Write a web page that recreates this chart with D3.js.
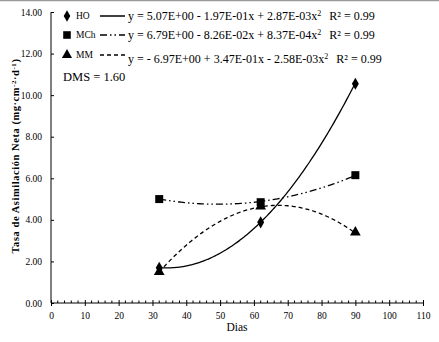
<!doctype html>
<html lang="es">
<head>
  <meta charset="UTF-8">
  <script src="https://cdn.jsdelivr.net/npm/d3@7"></script>
  <title>Tasa de Asimilación Neta</title>
  <style>
    body{ margin:0; background:#fff;}
    svg, svg text{ display:block; font-family:'Liberation Serif', 'DejaVu Serif', serif !important;}
  </style>
</head>
<body>
  <div class="chart"></div>
  <script>
    // datos
    const dias = [32, 62, 90];
    const HO = [1.70, 3.88, 10.55];
    const MCh = [5.00, 4.85, 6.15];
    const MM = [1.50, 4.65, 3.40];
    // coeficientes de las regresiones (a, b, c) mostrados en la leyenda
    const coefHO = [5.07, -0.197, 0.00287];
    const coefMCh = [6.79, -0.0826, 0.000837];
    const coefMM = [-6.97, 0.347, -0.00258];
    const ecuaciones = [
      'y = 5.07E+00 - 1.97E-01x + 2.87E-03x',
      'y = 6.79E+00 - 8.26E-02x + 8.37E-04x',
      'y = - 6.97E+00 + 3.47E-01x - 2.58E-03x'
    ];
    const r2 = ['0.99', '0.99', '0.99'];
    const xTicks = d3.range(0, 111, 10);
    const yTicks = d3.range(0, 15, 2);

    const W = 439, H = 342;
    const FONT = "'Liberation Serif', serif";
    const svg = d3.select('.chart').append('svg').attr('width', W).attr('height', H)
      .attr('font-family', FONT);
    svg.append('line').attr('x1', 0).attr('x2', W).attr('y1', 0.5).attr('y2', 0.5)
      .attr('stroke', '#999').attr('stroke-width', 1.5);

    const x = d3.scaleLinear().domain([0, 110]).range([51, 423]);
    const y = d3.scaleLinear().domain([0, 14]).range([303, 12]);

    // ejes
    const xAxis = svg.append('g').attr('transform', `translate(0,${y(0)})`)
      .call(d3.axisBottom(x).tickValues(xTicks).tickFormat(d3.format('d')).tickSize(3).tickPadding(6))
      .attr('font-family', FONT).attr('font-size', 9.5);
    xAxis.selectAll('.tick line').attr('y1', -3);
    xAxis.select('.domain').attr('d', `M${x(0)},0H${x(110)}`);
    xAxis.append('g').selectAll('line').data(d3.range(0, 111, 2).filter(d => d % 10))
      .enter().append('line').attr('x1', d => x(d)).attr('x2', d => x(d)).attr('y1', 0).attr('y2', -2.5)
      .attr('stroke', '#000');

    const yAxis = svg.append('g').attr('transform', `translate(${x(0)},0)`)
      .call(d3.axisLeft(y).tickValues(yTicks).tickFormat(d3.format('.2f')).tickSize(-3).tickPadding(9))
      .attr('font-family', FONT).attr('font-size', 9.5);
    yAxis.select('.domain').attr('d', `M0,${y(0)}V${y(14)}`);
    svg.selectAll('.domain').attr('stroke', '#000');

    svg.append('text').attr('x', 237).attr('y', 331).attr('text-anchor', 'middle')
      .attr('font-size', 11.5).text('Dias');

    const yt = svg.append('text').attr('transform', 'translate(19,156) rotate(-90)')
      .attr('text-anchor', 'middle').attr('font-size', 10.5).attr('font-weight', 'bold')
      .attr('letter-spacing', 0.55);
    yt.append('tspan').text('Tasa de Asimilación  Neta (mg·cm');
    yt.append('tspan').attr('dy', -3).attr('font-size', 7).text('-2');
    yt.append('tspan').attr('dy', 3).text('·d');
    yt.append('tspan').attr('dy', -3).attr('font-size', 7).text('-1');
    yt.append('tspan').attr('dy', 3).text(')');

    // curvas de regresion
    const poly = c => t => c[0] + c[1] * t + c[2] * t * t;
    const xs = d3.range(32, 90.01, 0.5);
    const series = [
      { name: 'HO', vals: HO, coef: coefHO, dash: null, sym: d3.symbolDiamond, size: 42 },
      { name: 'MCh', vals: MCh, coef: coefMCh, dash: '7,3,1.5,3,1.5,3', sym: d3.symbolSquare, size: 64 },
      { name: 'MM', vals: MM, coef: coefMM, dash: '4,3', sym: d3.symbolTriangle, size: 50 }
    ];
    const line = d3.line().x(d => x(d[0])).y(d => y(d[1]));
    series.forEach(s => {
      const f = poly(s.coef);
      svg.append('path').datum(xs.map(t => [t, f(t)])).attr('d', line)
        .attr('fill', 'none').attr('stroke', '#000').attr('stroke-width', 1.3)
        .attr('stroke-dasharray', s.dash);
    });
    series.forEach(s => {
      svg.append('g').selectAll('path').data(s.vals).enter().append('path')
        .attr('transform', (d, i) => `translate(${x(dias[i])},${y(d)})`)
        .attr('d', d3.symbol().type(s.sym).size(s.size)).attr('fill', '#000');
    });

    // leyenda
    const rows = [16, 35, 55];
    series.forEach((s, i) => {
      const g = svg.append('g').attr('transform', `translate(0,${rows[i]})`);
      g.append('path').attr('transform', 'translate(67,0)')
        .attr('d', d3.symbol().type(s.sym).size(s.size * 0.9)).attr('fill', '#000');
      g.append('text').attr('x', 76).attr('y', 3).attr('font-size', 9.5).text(s.name);
      g.append('line').attr('x1', 100).attr('x2', 125).attr('y1', 0).attr('y2', 0)
        .attr('stroke', '#000').attr('stroke-width', 1.5).attr('stroke-dasharray', s.dash);
      const t = g.append('text').attr('x', 128).attr('y', i === 2 ? 8 : 4).attr('font-size', 12);
      t.append('tspan').text(ecuaciones[i]);
      t.append('tspan').attr('dy', -4).attr('font-size', 8).text('2');
      t.append('tspan').attr('dy', 4).attr('dx', 8).text('R² = ' + r2[i]);
    });
    svg.append('text').attr('x', 63).attr('y', 81).attr('font-size', 12.5).text('DMS = 1.60');
  </script>
</body>
</html>
